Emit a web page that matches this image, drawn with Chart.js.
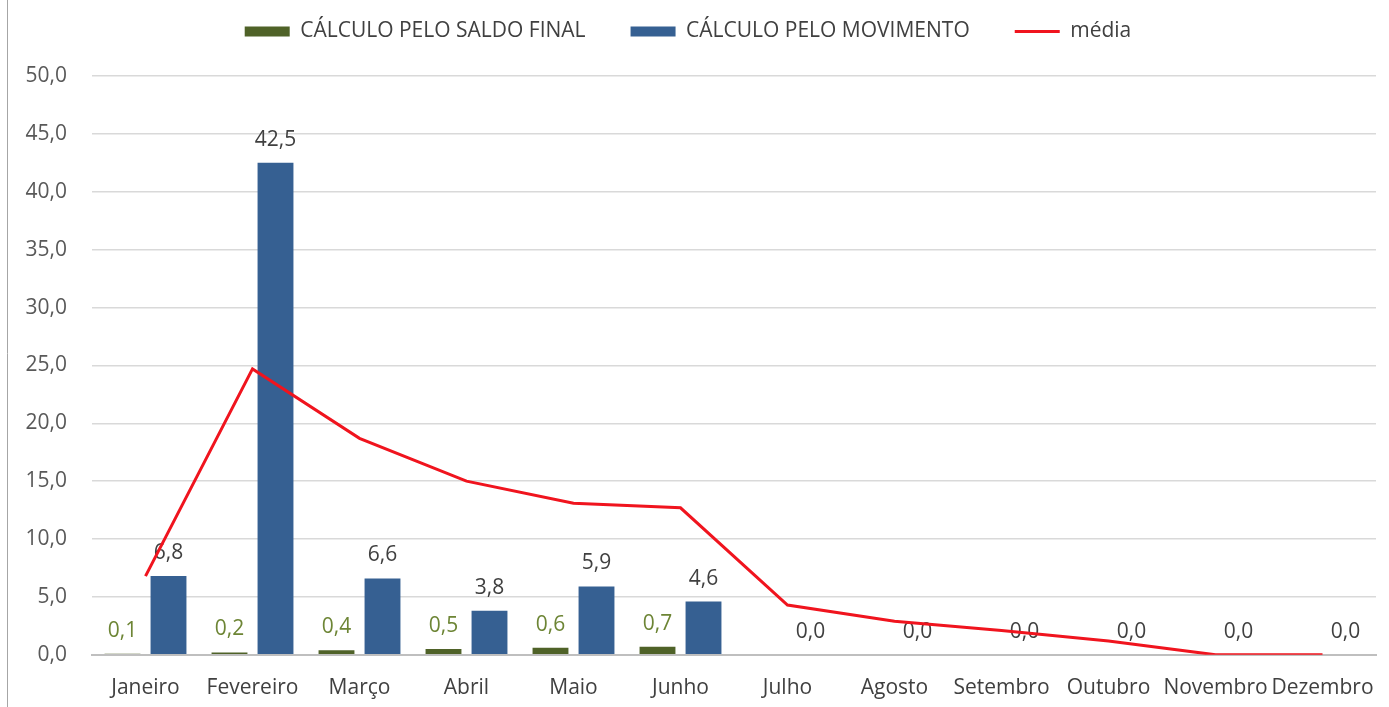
<!DOCTYPE html>
<html>
<head>
<meta charset="utf-8">
<script src="https://cdn.jsdelivr.net/npm/chart.js@4"></script>
<style>
  body { margin: 0; background: #fff; }
  #box { position: relative; width: 1389px; height: 707px; }
</style>
</head>
<body>
<div id="box"><canvas id="myChart"></canvas></div>
<script>
const meses = ['Janeiro', 'Fevereiro', 'Março', 'Abril', 'Maio', 'Junho', 'Julho', 'Agosto', 'Setembro', 'Outubro', 'Novembro', 'Dezembro'];
const saldoFinal = [0.1, 0.2, 0.4, 0.5, 0.6, 0.7, null, null, null, null, null, null];
const movimento = [6.8, 42.5, 6.6, 3.8, 5.9, 4.6, 0, 0, 0, 0, 0, 0];
const media = [6.8, 24.7, 18.7, 15.0, 13.1, 12.7, 4.3, 2.9, 2.1, 1.2, 0, 0];
const yTicks = [0, 5, 10, 15, 20, 25, 30, 35, 40, 45, 50];

const fonte = '"Open Sans"';
const fmt = v => Number(v).toFixed(1).replace('.', ',');

// rotulos em cima das barras
const rotulos = {
    id: 'rotulos',
    afterDatasetDraw(chart, args) {
        let ds = chart.data.datasets[args.index];
        if (ds.type == 'line') return;
        let ctx = chart.ctx;
        ctx.save();
        ctx.font = '21px ' + fonte;
        ctx.fillStyle = ds.labelColor;
        ctx.textAlign = 'center';
        ctx.textBaseline = 'middle';
        args.meta.data.forEach((el, i) => {
            if (ds.data[i] == null) return;
            ctx.fillText(fmt(ds.data[i]), el.x, el.y - 23);
        });
        ctx.restore();
    }
};

const fundo = {
    id: 'fundo',
    beforeDraw(chart) {
        let ctx = chart.ctx;
        ctx.save();
        ctx.fillStyle = '#fff';
        ctx.fillRect(0, 0, chart.width, chart.height);
        ctx.strokeStyle = '#a6a6a6';
        ctx.lineWidth = 1;
        ctx.beginPath();
        ctx.moveTo(7.5, 0);
        ctx.lineTo(7.5, chart.height);
        ctx.stroke();
        ctx.restore();
    }
};

// espaco extra abaixo da legenda
const legendaEspaco = {
    id: 'legendaEspaco',
    beforeInit(chart) {
        const fit = chart.legend.fit;
        chart.legend.fit = function () {
            fit.bind(chart.legend)();
            this.height += 24;
        };
    }
};

const data = {
    labels: meses,
    datasets: [{
        type: 'bar',
        label: 'CÁLCULO PELO SALDO FINAL',
        data: saldoFinal,
        backgroundColor: '#4F6228',
        labelColor: '#6D8535',
        pointStyle: 'rect',
        borderWidth: 0,
        order: 1
    }, {
        type: 'bar',
        label: 'CÁLCULO PELO MOVIMENTO',
        data: movimento,
        backgroundColor: '#366092',
        labelColor: '#404040',
        pointStyle: 'rect',
        borderWidth: 0,
        order: 1
    }, {
        type: 'line',
        label: 'média',
        data: media,
        borderColor: '#F0141E',
        backgroundColor: '#F0141E',
        borderWidth: 3,
        pointRadius: 0,
        pointStyle: 'line',
        tension: 0,
        order: 0
    }]
};

const config = {
    type: 'bar',
    data: data,
    options: {
        responsive: true,
        maintainAspectRatio: false,
        animation: false,
        categoryPercentage: 0.86,
        barPercentage: 0.78,
        layout: { padding: { top: -24, right: 13, bottom: -15, left: 0 } },
        plugins: {
            legend: {
                display: true,
                position: 'top',
                labels: {
                    usePointStyle: true,
                    pointStyleWidth: 45,
                    boxHeight: 10,
                    padding: 45,
                    color: '#404040',
                    font: { family: fonte, size: 21 },
                    sort: (a, b) => a.datasetIndex - b.datasetIndex
                }
            },
            tooltip: { enabled: false }
        },
        scales: {
            x: {
                afterFit: s => { s.paddingRight = 0; s.paddingLeft = 0; },
                grid: { display: false, drawTicks: false },
                border: { display: true, color: '#bfbfbf', width: 2 },
                ticks: { color: '#404040', padding: 21, maxRotation: 0, autoSkip: false, font: { family: fonte, size: 21 } }
            },
            y: {
                min: 0,
                max: 50,
                afterFit: s => { s.width = 92; },
                afterBuildTicks: s => { s.ticks = yTicks.map(v => ({ value: v })); },
                border: { display: false },
                grid: {
                    color: c => c.tick.value == 0 ? '#bfbfbf' : '#d9d9d9',
                    lineWidth: 1.5,
                    drawTicks: false
                },
                ticks: {
                    color: '#595959',
                    padding: 25,
                    font: { family: fonte, size: 21 },
                    callback: v => fmt(v)
                }
            }
        }
    },
    plugins: [fundo, rotulos, legendaEspaco]
};

new Chart(document.getElementById('myChart'), config);
</script>
</body>
</html>
